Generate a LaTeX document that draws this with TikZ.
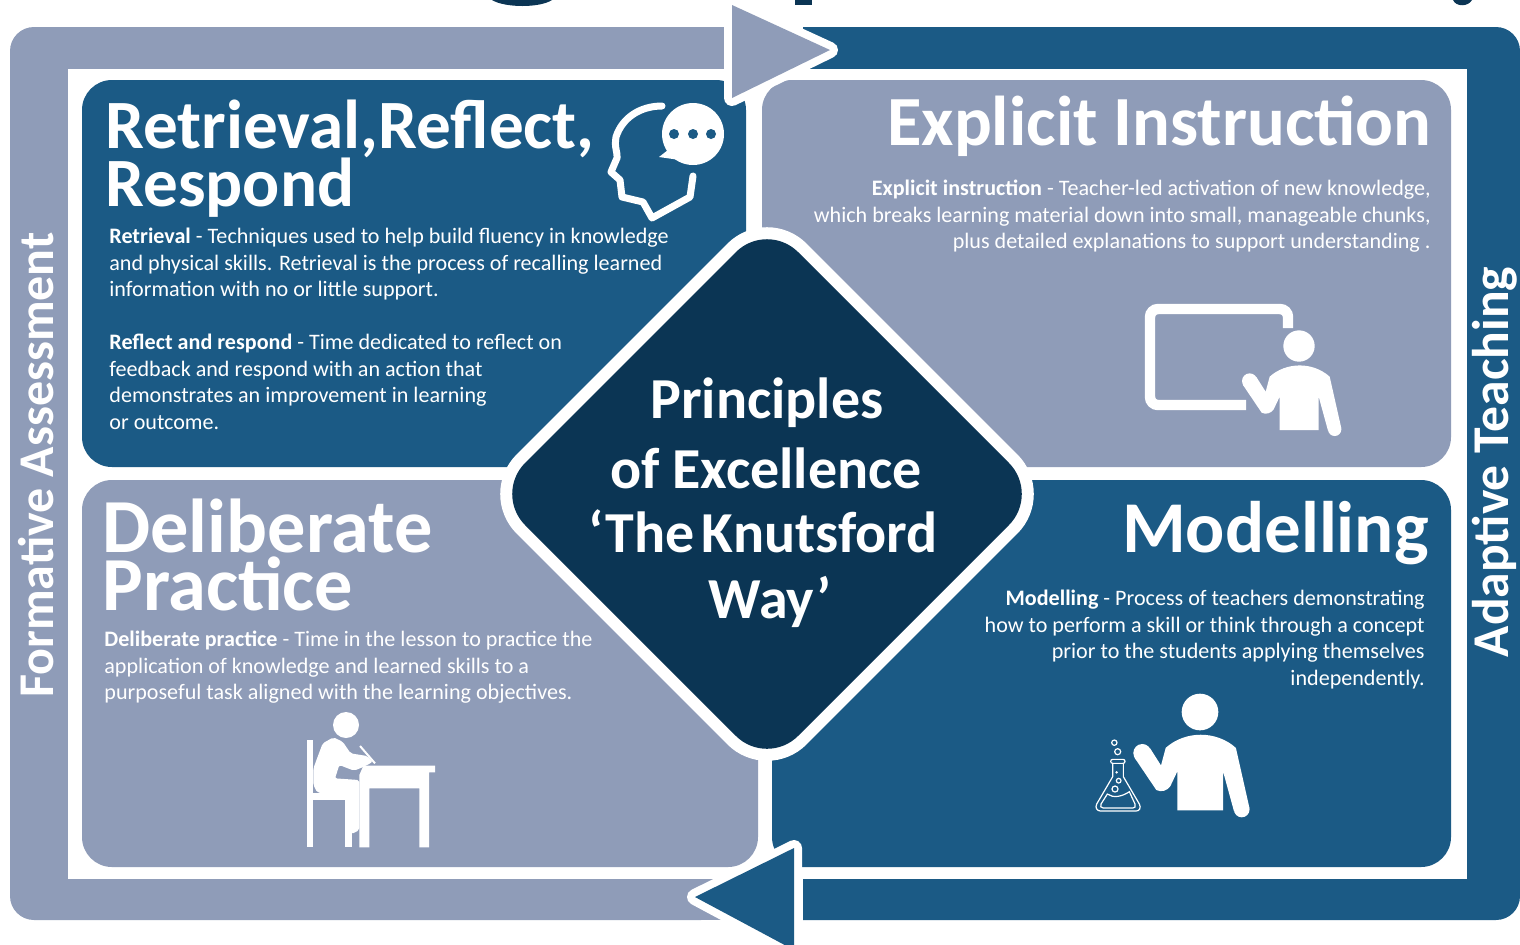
\documentclass[tikz,border=0pt]{standalone}
\usepackage{fontspec}
\setmainfont{Carlito}
\definecolor{deepblue}{HTML}{1B5A85}
\definecolor{paleblue}{HTML}{8F9CB8}
\definecolor{navyblue}{HTML}{0B3554}
\tikzset{
  bodytext/.style={text=white, inner sep=0pt, font=\fontsize{11.05}{13.25}\selectfont},
  headtext/.style={text=white, inner sep=0pt, font=\bfseries\fontsize{#1}{#1}\selectfont},
  flowtip/.style={fill=#1, preaction={draw=white, line width=8pt, line join=round}},
  teacherfig/.pic={
    \fill[white] (0,0) circle (47);
    \fill[white] (-148,105) circle (23);
    \fill[white] (107,250) circle (20);
    \fill[white] (-88,92) .. controls (-38,47) and (42,47) .. (92,92)
      -- (127,247) -- (87,254) -- (59,152) -- (59,252) -- (-58,252) -- (-58,152)
      -- (-76,190) .. controls (-85,203) and (-100,206) .. (-112,200) -- (-168,117)
      -- (-128,93) -- (-100,137) -- cycle;
  }
}
\begin{document}
\begin{tikzpicture}[x=0.5pt, y=-0.5pt]
  \useasboundingbox (0,0) rectangle (1520,944);
  \fill[navyblue] (492,0) .. controls (505,8) and (540,8) .. (552,0) -- cycle;
  \fill[navyblue] (795,0) rectangle (812,5);
  \fill[navyblue] (1453,0) .. controls (1456,7) and (1468,7) .. (1472,0) -- cycle;

  \fill[paleblue, rounded corners=12pt] (10,27) rectangle (725,920);
  \fill[deepblue] (803,27) [rounded corners=12pt] -- (1520,27) -- (1520,920) [sharp corners] -- (803,920) -- cycle;
  \fill[paleblue] (700,27) rectangle (725,920);
  \fill[white] (68,69) rectangle (1467,879);
  \fill[paleblue] (68,879) rectangle (760,920);

  \foreach \xa/\ya/\xb/\yb/\tone in {82/80/746/467/deepblue, 762/80/1451/467/paleblue,
                                     82/480/758/867/paleblue, 772/480/1451/867/deepblue}{
    \fill[\tone, rounded corners=15pt] (\xa,\ya) rectangle (\xb,\yb);
  };

  \path[flowtip=paleblue] (732,5) -- (830,50) -- (732,98) -- cycle;
  \path[flowtip=deepblue] (695,897) -- (794,848) -- (794,950) -- cycle;
  \path[flowtip=navyblue, rounded corners=22pt, preaction={draw=white, line width=12pt}]
    (767,221) -- (1040,494) -- (767,767) -- (494,494) -- cycle;

  \foreach \xbase/\line/\ybase in {767/Principles/418, 766/of Excellence/488,
                                   763/{`The\hspace{0.13em}Knutsford}/552, 770/{Way'}/618}{
    \node[headtext=29, anchor=base] (title\ybase) at (\xbase,\ybase) {\line};
  };

  \node[headtext=25, rotate=90, anchor=base] (formative) at (53,465) {Formative Assessment};
  \node[headtext=25.8, rotate=90, anchor=base] (adaptive) at (1508,462) {Adaptive Teaching};

  \node[headtext=34.6, anchor=base west] (retrievalA) at (105,148) {Retrieval,Reflect,};
  \node[headtext=34.6, anchor=base west] (retrievalB) at (105,206) {Respond};
  \node[bodytext, anchor=north west, align=left] (retrievalC) at (109,228)
    {\textbf{Retrieval} - Techniques used to help build fluency in knowledge\\
     and physical skills. Retrieval is the process of recalling learned\\
     information with no or little support.};
  \node[bodytext, anchor=north west, align=left] (retrievalD) at (109,334)
    {\textbf{Reflect and respond} - Time dedicated to reflect on\\
     feedback and respond with an action that\\
     demonstrates an improvement in learning\\
     or outcome.};

  \node[headtext=35.25, anchor=base east] (explicitA) at (1432,145) {Explicit Instruction};
  \node[bodytext, anchor=north east, align=right] (explicitB) at (1431,180)
    {\textbf{Explicit instruction} - Teacher-led activation of new knowledge,\\
     which breaks learning material down into small, manageable chunks,\\
     plus detailed explanations to support understanding .};

  \node[headtext=38.2, anchor=base west] (deliberateA) at (102,552) {Deliberate};
  \node[headtext=38.2, anchor=base west] (deliberateB) at (102,610) {Practice};
  \node[bodytext, anchor=north west, align=left] (deliberateC) at (104,631)
    {\textbf{Deliberate practice} - Time in the lesson to practice the\\
     application of knowledge and learned skills to a\\
     purposeful task aligned with the learning objectives.};

  \node[headtext=36.5, anchor=base east] (modellingA) at (1429,552) {Modelling};
  \node[bodytext, anchor=north east, align=right] (modellingB) at (1425,590)
    {\textbf{Modelling} - Process of teachers demonstrating\\
     how to perform a skill or think through a concept\\
     prior to the students applying themselves\\
     independently.};

  \draw[white, line width=3.5pt, line cap=round, line join=round]
    (662,106) .. controls (640,106) and (622,118) .. (616,137) .. controls (614,148) and (618,153) .. (617,158)
    -- (611,172) -- (620,180) -- (622,197) -- (643,202) -- (652,218) -- (690,197) -- (693,176);
  \fill[white] (693,134) circle (31);
  \fill[white] (668,150) -- (659,157) -- (680,160) -- cycle;
  \foreach \xdot in {674,693,711}{
    \fill[deepblue] (\xdot,134) circle (5);
  };

  \draw[white, line width=5.2pt, rounded corners=4pt] (1288,328) -- (1288,309) -- (1150,309) -- (1150,405) -- (1246,405);
  \begin{scope}[shift={(1299,346)}, x=0.1667pt, y=-0.1667pt]
    \pic (teacherA) at (0,0) {teacherfig};
  \end{scope}
  \begin{scope}[shift={(1200,712)}, x=0.195pt, y=-0.195pt]
    \pic (teacherB) at (0,0) {teacherfig};
  \end{scope}

  \begin{scope}[shift={(1080,680)}, x=0.1667pt, y=-0.1667pt, white, line width=0.6pt]
    \draw (103,188) circle (8) (113,215) circle (9) (116,302) circle (7) (105,327) circle (9);
    \fill (110,277) circle (4);
    \draw[rounded corners=1pt] (92,238) rectangle (135,250);
    \draw (98,250) -- (98,290) -- (50,372) .. controls (44,384) and (52,393) .. (62,393) -- (168,393)
      .. controls (178,393) and (184,384) .. (178,372) -- (130,290) -- (130,250);
    \draw (82,342) .. controls (100,355) and (125,350) .. (148,335) -- (165,372) .. controls (168,380) and (165,384) .. (158,384)
      -- (70,384) .. controls (62,384) and (60,378) .. (63,372) -- cycle;
  \end{scope}

  \begin{scope}[shift={(280,700)}, x=0.1667pt, y=-0.1667pt]
    \fill[white] (198,75) circle (39);
    \fill[white] (80,120) rectangle (100,442);
    \fill[white] (100,280) rectangle (215,300);
    \fill[white] (195,280) rectangle (215,442);
    \fill[white, rounded corners=1pt] (100,205) -- (128,130) -- (160,112) -- (188,125) -- (212,160) -- (262,168) -- (278,185) -- (262,195) -- (240,205) -- (222,212) -- (178,195) -- (165,235) -- (238,240) -- (238,390) -- (215,402) -- (215,280) -- (112,278) -- (100,255) -- cycle;
    \draw[white, line width=1pt] (240,138) -- (285,190);
    \fill[white] (250,197) -- (465,197) -- (465,217) -- (447,217) -- (447,442) -- (418,442) -- (418,265) -- (268,265) -- (268,442) -- (238,442) -- (238,225) -- cycle;
  \end{scope}
\end{tikzpicture}
\end{document}
